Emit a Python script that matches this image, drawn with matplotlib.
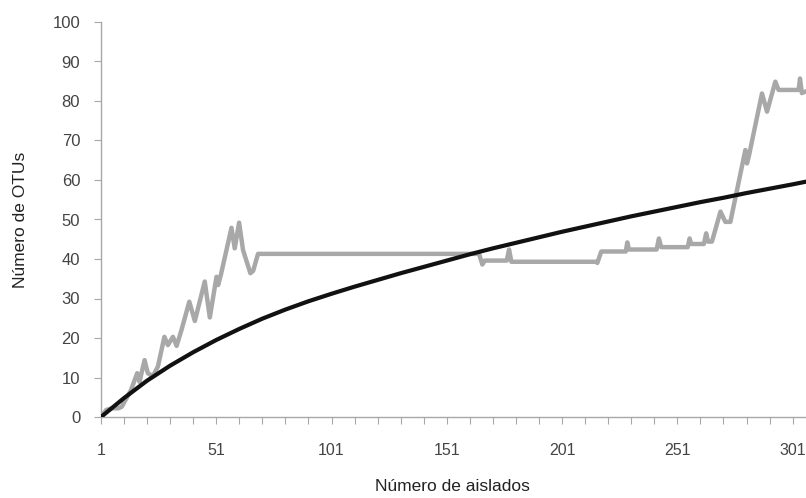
import matplotlib
matplotlib.use("Agg")
import matplotlib.pyplot as plt
import numpy as np

plt.rcParams['font.family'] = ['Liberation Sans', 'DejaVu Sans']

# Curva esperada (negra), leida cada 10 aislados
curve_x = [1, 11, 21, 31, 41, 51, 61, 71, 81, 91, 101, 111, 121, 131, 141, 151,
           161, 171, 181, 191, 201, 211, 221, 231, 241, 251, 261, 271, 281, 291, 301, 307]
curve_y = [0, 4.8, 9.2, 13.0, 16.4, 19.5, 22.3, 24.9, 27.2, 29.3, 31.2, 33.0, 34.7,
           36.4, 38.0, 39.6, 41.2, 42.7, 44.1, 45.5, 46.9, 48.2, 49.5, 50.8, 52.0,
           53.2, 54.4, 55.5, 56.7, 57.8, 58.9, 59.6]

# OTUs observados (gris)
otu_x = [1, 3.3, 6, 8.5, 10, 12, 14, 16.7, 17.7, 19.9, 21.3, 23.5, 25.7, 28.5, 30,
         32.2, 33.8, 35.9, 39.3, 41.7, 46, 48.2, 51.1, 51.8, 53, 57.6, 59, 60.9,
         62.6, 64.1, 65.8, 67, 69.1, 165, 166.4, 167.5, 177, 178, 179, 215.6, 216.3,
         218, 228.6, 229.3, 230, 242, 243, 244, 255.5, 256.3, 257, 262.5, 263.5,
         264.3, 266, 269.7, 271.8, 274, 280.5, 281.2, 282, 287.7, 289.9, 293.5,
         294.9, 303.6, 304.2, 305, 307]
otu_y = [0, 1.8, 2.2, 2.2, 2.6, 4.7, 6.8, 11.1, 8.9, 14.4, 11.1, 10.3, 12.8, 20.3, 18.2,
         20.3, 18.0, 22.0, 29.2, 24.3, 34.3, 25.2, 35.5, 33.4, 36.0, 47.9, 42.7, 49.2,
         42.3, 39.5, 36.4, 37.0, 41.3, 41.3, 38.6, 39.6, 39.6, 42.4, 39.3, 39.3, 39.0,
         41.9, 41.9, 44.2, 42.4, 42.4, 45.2, 43.0, 43.0, 45.2, 43.8, 43.8, 46.5,
         44.4, 44.4, 52.0, 49.4, 49.4, 67.6, 64.2, 66.0, 81.9, 77.3, 84.9,
         82.8, 82.8, 85.7, 82.0, 82.5]

x_major = [1, 51, 101, 151, 201, 251, 301]
y_ticks = [0, 10, 20, 30, 40, 50, 60, 70, 80, 90, 100]

fig = plt.figure(figsize=(8.06, 4.98), dpi=100)
ax = fig.add_axes([101 / 806, 81 / 498, 705 / 806, 395 / 498])

ax.plot(otu_x, otu_y, color='#a8a8a8', linewidth=3.2, solid_joinstyle='round', zorder=2)
ax.plot(curve_x, curve_y, color='#111111', linewidth=3.0, zorder=3)

ax.set_xlim(1, 306.8)
ax.set_ylim(0, 100)

ax.set_xticks(x_major)
ax.set_xticks(np.arange(1, 307, 10), minor=True)
ax.set_yticks(y_ticks)

for side in ['top', 'right']:
    ax.spines[side].set_visible(False)
for side in ['left', 'bottom']:
    ax.spines[side].set_color('#a8a8a8')
    ax.spines[side].set_linewidth(1.0)

ax.tick_params(axis='x', which='both', direction='out', length=5, width=0.8,
               color='#a8a8a8', pad=14, labelsize=11.5, labelcolor='#444444')
ax.tick_params(axis='y', which='major', direction='out', length=5, width=0.8,
               color='#a8a8a8', pad=10, labelsize=12, labelcolor='#444444')

ax.set_xlabel('Número de aislados', fontsize=12.5, color='#222222')
ax.set_ylabel('Número de OTUs', fontsize=12.5, color='#222222')
ax.xaxis.set_label_coords(0.498, -0.177)
ax.xaxis.label.set_verticalalignment('center')
ax.yaxis.set_label_coords(-0.114, 0.5)
ax.yaxis.label.set_verticalalignment('center')

fig.savefig('out.png', dpi=100)
